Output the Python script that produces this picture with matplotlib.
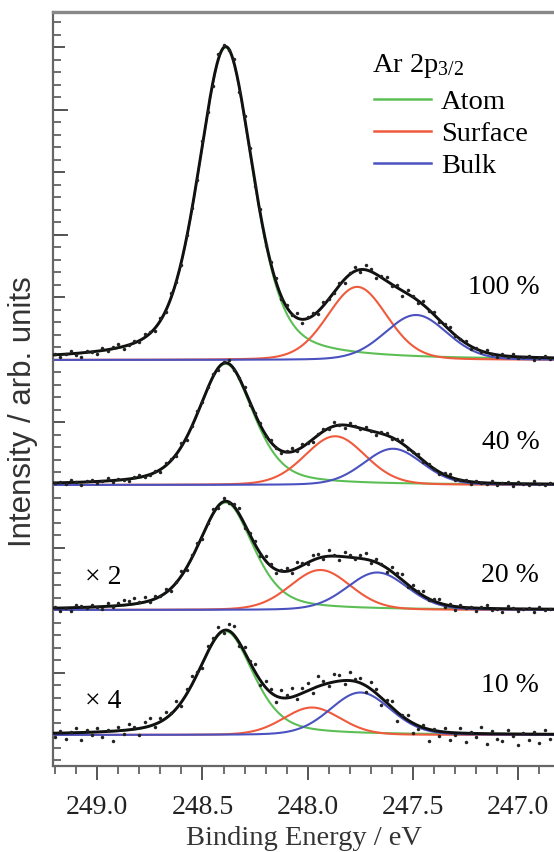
import numpy as np
import matplotlib
matplotlib.use("Agg")
import matplotlib.pyplot as plt
from matplotlib.ticker import MultipleLocator

plt.rcParams['font.family'] = ['Liberation Serif', 'DejaVu Serif']
plt.rcParams['mathtext.fontset'] = 'custom'
plt.rcParams['mathtext.rm'] = 'Liberation Serif'
plt.rcParams['mathtext.it'] = 'Liberation Serif:italic'

# ---------------- data ----------------
coverages = ["100 %", "40 %", "20 %", "10 %"]
baselines = [30, 20, 10, 0]
magnif = ["", "", "\u00d7 2", "\u00d7 4"]

atom_center = 248.39
atom_hwhm = 0.155
atom_eta = 0.45
atom_amp = [25.0, 9.7, 8.6, 8.3]

comp_eta = 0.15
surf_center = [247.765, 247.87, 247.94, 247.98]
surf_amp = [5.85, 3.9, 3.2, 2.2]
surf_hwhm = [0.167, 0.17, 0.17, 0.16]

bulk_center = [247.486, 247.595, 247.67, 247.75]
bulk_amp = [3.6, 2.9, 3.0, 3.4]
bulk_hwhm = [0.175, 0.165, 0.17, 0.17]

e_start, e_step, n_pts = 249.2, 0.025, 95
res100 = [1, -2, 0, 2, -1, -3, 1, 0, -2, 2,
          -1, 1, 3, -2, 0, 2, -1, 3, 1, -2,
          2, -1, 4, 0, -3, 2, 1, -2, 3, 0,
          -3, 4, 2, -1, 3, -4, 1, 2, -2, 4,
          -3, 1, 3, -2, 2, -1, 4, -3, 1, 2,
          -2, 3, 0, -1, 2, -3, 1, 3, -2, 4,
          2, -3, 1, 3, -1, 2, -4, 3, 1, -2,
          3, -1, 2, -2, 1, 3, -1, 0, 2, -2,
          1, -1, 2, 0, -2, 1, -1, 2, -1, 0,
          1, -2, 0, 1, -1]
res40 = [0, 1, -1, 2, 0, -2, 1, 1, -1, 0,
         2, -1, 1, 0, -2, 1, 2, -1, 0, 1,
         -2, 2, 1, -1, 3, -2, 0, 2, -1, 1,
         2, -2, 1, 3, -1, 0, 2, -2, 1, 2,
         -1, 2, 0, -2, 1, 3, -1, 2, 0, -2,
         1, 2, -1, 3, 0, -2, 2, 1, -1, 2,
         0, -2, 1, 2, -1, 1, 3, -1, 0, 2,
         -1, 1, 0, -2, 1, 2, -1, 0, 1, -2,
         1, 0, -1, 2, -1, 0, 1, -2, 1, 0,
         -1, 2, 0, -1, 1]
res20 = [1, -2, 0, -3, 2, 1, -1, 2, 0, -2,
         3, -1, 2, 4, 3, 5, 1, 4, -1, 2,
         0, 3, -2, 1, 4, -2, 2, 3, -3, 1,
         4, -2, 3, -1, 2, 5, -3, 1, 3, -2,
         4, 2, -3, 1, 3, -2, 5, 2, -1, 4,
         3, -2, 5, 1, -3, 4, 2, -1, 3, 5,
         -2, 3, 1, -3, 4, 2, 5, -2, 3, 1,
         4, -1, 2, 3, -2, 1, -3, 2, 0, 1,
         -2, 1, 3, -1, 0, -3, 2, 1, -2, 0,
         1, -2, 2, -1, 0]
res10 = [-3, 2, -5, 1, 4, -6, 2, -2, 3, -4,
         1, -8, 3, -3, 5, 2, -5, 4, 6, -2,
         3, 5, 1, 6, -3, 4, 7, 2, -4, 5,
         3, 6, -2, 5, 7, -3, 4, 1, 6, -4,
         5, 3, -5, 6, 2, 7, -3, 4, 6, -4,
         8, 3, -2, 6, 5, -3, 7, 2, 4, -5,
         6, 3, -6, 2, 5, -7, 1, 4, -8, -3,
         2, -9, 1, -4, 3, -6, -2, 4, -7, 1,
         -3, 5, -8, 2, -4, -6, 3, -2, -9, 1,
         -5, 2, -7, 3, -4]
residuals = [res100, res40, res20, res10]

xticks = [249.0, 248.5, 248.0, 247.5, 247.0]

# ---------------- model ----------------
def pvoigt(e, c, a, w, eta):
    d = (e - c) / w
    return a * (eta / (1 + d ** 2) + (1 - eta) * np.exp(-np.log(2) * d ** 2))

green = '#5cbf55'
red = '#f05a3c'
blue = '#4a52c0'

fig = plt.figure(figsize=(5.54, 8.52), dpi=100)
W, H = 554, 852
ax = fig.add_axes([53 / W, 1 - 766 / H, 1 - 53 / W, (766 - 12) / H])

ef = np.linspace(249.3, 246.7, 800)
e_pts = e_start - e_step * np.arange(n_pts)

for k in range(4):
    b = baselines[k]
    ga = pvoigt(ef, atom_center, atom_amp[k], atom_hwhm, atom_eta)
    rs = pvoigt(ef, surf_center[k], surf_amp[k], surf_hwhm[k], comp_eta)
    bb = pvoigt(ef, bulk_center[k], bulk_amp[k], bulk_hwhm[k], comp_eta)
    la, = ax.plot(ef, b + ga, color=green, lw=1.5, zorder=2)
    lr, = ax.plot(ef, b + rs, color=red, lw=1.5, zorder=2)
    lb, = ax.plot(ef, b + bb, color=blue, lw=1.5, zorder=2)
    ax.plot(ef, b + ga + rs + bb, color='#111111', lw=2.1, zorder=3)
    model_pts = (pvoigt(e_pts, atom_center, atom_amp[k], atom_hwhm, atom_eta)
                 + pvoigt(e_pts, surf_center[k], surf_amp[k], surf_hwhm[k], comp_eta)
                 + pvoigt(e_pts, bulk_center[k], bulk_amp[k], bulk_hwhm[k], comp_eta))
    ax.plot(e_pts, b + model_pts + 0.1 * np.array(residuals[k]), 'o',
            color='#222222', ms=2.5, mew=0, zorder=4)
    if k == 0:
        handles = [la, lr, lb]

label_y = [35.76, 23.36, 12.8, 4.0]
for k in range(4):
    ax.text(246.9, label_y[k], coverages[k], ha='right', va='center', fontsize=20)
mag_y = [None, None, 12.56, 2.64]
for k in (2, 3):
    ax.text(249.057, mag_y[k], magnif[k], ha='left', va='center', fontsize=20)

ax.text(0.637, 0.920, "Ar 2p$_{3/2}$", transform=ax.transAxes, ha='left',
        va='baseline', fontsize=20.5)
leg = ax.legend(handles, ["Atom", "Surface", "Bulk"],
                loc='upper left', bbox_to_anchor=(0.641, 0.898), frameon=False,
                fontsize=20.5, labelspacing=0.21,
                handlelength=2.0, handletextpad=0.35, borderpad=0,
                borderaxespad=0)
for h in leg.get_lines():
    h.set_linewidth(1.8)

ax.set_xlim(249.21, 246.83)
ax.set_ylim(-2.48, 57.84)
ax.set_xticks(xticks)
ax.set_xticklabels([f"{v:.1f}" for v in xticks])
ax.xaxis.set_minor_locator(MultipleLocator(0.1))
ax.yaxis.set_major_locator(MultipleLocator(5))
ax.yaxis.set_minor_locator(MultipleLocator(1))
ax.set_yticklabels([])
ax.tick_params(axis='x', which='major', direction='out', length=10, width=1.4,
               labelsize=20, pad=11, colors='#555555', labelcolor='#222222')
ax.tick_params(axis='x', which='minor', direction='out', length=5.8, width=1.2, colors='#555555')
ax.tick_params(axis='y', which='major', direction='in', length=8.6, width=1.4, colors='#555555')
ax.tick_params(axis='y', which='minor', direction='in', length=5.8, width=1.2, colors='#555555')
ax.tick_params(top=False, right=False, which='both')

sec = ax.secondary_yaxis('left', functions=(lambda y: y, lambda y: y))
sec.yaxis.set_major_locator(MultipleLocator(10))
sec.set_yticklabels([])
sec.tick_params(direction='in', length=10.8, width=1.4, colors='#555555')
sec.spines['left'].set_visible(False)

for s in ['left', 'bottom']:
    ax.spines[s].set_color('#666666')
    ax.spines[s].set_linewidth(1.6)
ax.spines['top'].set_color('#888888')
ax.spines['top'].set_linewidth(2.4)
ax.spines['right'].set_visible(False)

ax.set_xlabel("Binding Energy / eV", fontsize=20.5, labelpad=4, color='#333333')
fig.text(23 / W, 1 - 412 / H, "Intensity / arb. units", rotation=90,
         ha='center', va='center', fontsize=22.5, color='#333333',
         family=['Liberation Sans', 'DejaVu Sans'])

fig.savefig("out.png", dpi=100)
